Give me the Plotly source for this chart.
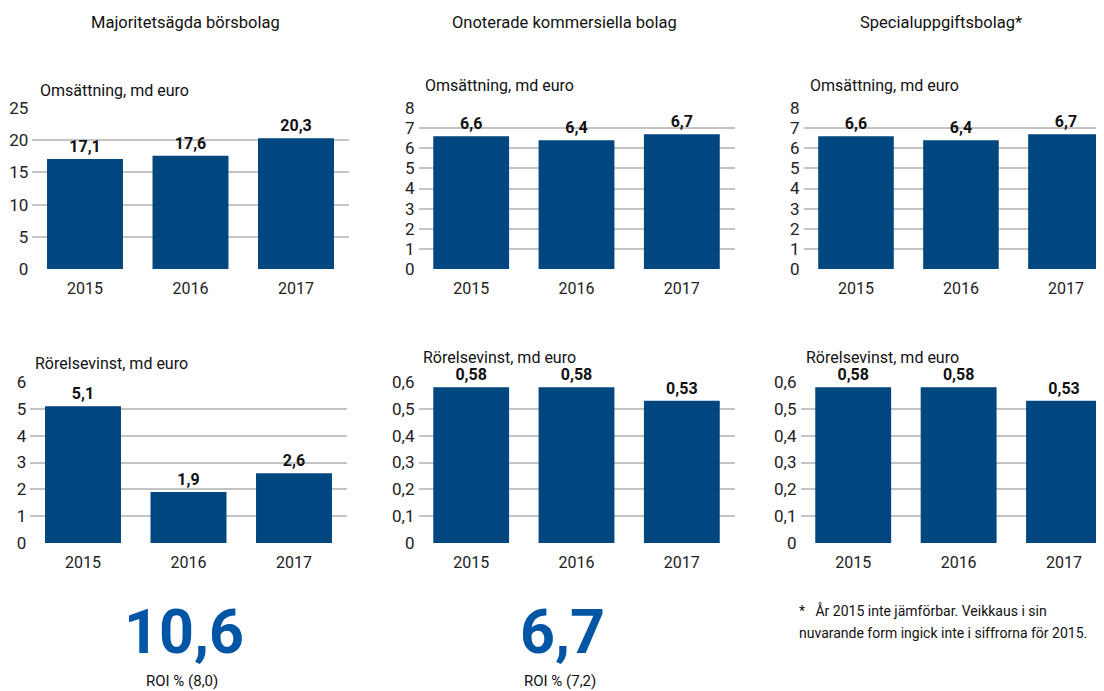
import plotly.graph_objects as go

years = ["2015", "2016", "2017"]
col_titles = ["Majoritetsägda börsbolag", "Onoterade kommersiella bolag", "Specialuppgiftsbolag*"]
revenue_title = "Omsättning, md euro"
profit_title = "Rörelsevinst, md euro"
revenue_listed = [17.1, 17.6, 20.3]
revenue_unlisted = [6.6, 6.4, 6.7]
revenue_special = [6.6, 6.4, 6.7]
profit_listed = [5.1, 1.9, 2.6]
profit_unlisted = [0.58, 0.58, 0.53]
profit_special = [0.58, 0.58, 0.53]
roi_values = ["10,6", "6,7"]
roi_labels = ["ROI % (8,0)", "ROI % (7,2)"]
footnote = ["*   År 2015 inte jämförbar. Veikkaus i sin", "nuvarande form ingick inte i siffrorna för 2015."]

OFF = 8  # page body margin
W, H = 1104 - OFF, 691 - OFF
BAR = "#00467F"
ROI = "#0055A5"
GRID = "#C4C4C4"
COND = "Roboto, Liberation Sans, sans-serif"

def px_x(a): return (a - OFF) / W
def px_y(b): return 1 - (b - OFF) / H

panels = [
    # series, ymax, dtick, fmt, xdomain px, xrange end, ydomain px (bottom, top)
    (revenue_listed, 25, 5, ".1f", (32.25, 348.75), 2.5, (269, 108)),
    (revenue_unlisted, 8, 1, ".1f", (418.5, 734.5), 2.5, (269, 108)),
    (revenue_special, 8, 1, ".1f", (803.5, 1104), 2.3626, (269, 108)),
    (profit_listed, 6, 1, ".1f", (30.25, 346.75), 2.5, (543, 382)),
    (profit_unlisted, 0.6, 0.1, ".2f", (418.5, 734.5), 2.5, (543, 382)),
    (profit_special, 0.6, 0.1, ".2f", (800.5, 1104), 2.379, (543, 382)),
]

fig = go.Figure()
for i, (vals, ymax, dt, fmt, xd, xe, yd) in enumerate(panels):
    n = "" if i == 0 else str(i + 1)
    fig.add_trace(go.Bar(
        x=years, y=vals, xaxis="x" + n, yaxis="y" + n,
        marker=dict(color=BAR, line=dict(width=0)), width=0.72,
        texttemplate="%{y:" + fmt + "}", textposition="outside",
        textfont=dict(family=COND, size=16, color="#111111", weight="bold"),
        cliponaxis=False, showlegend=False, hoverinfo="skip",
    ))
    fig.layout["xaxis" + n] = dict(
        domain=[px_x(xd[0]), px_x(xd[1])], anchor="y" + n, range=[-0.5, xe],
        type="category", showgrid=False, zeroline=False, showline=False, automargin=False,
        ticks="", tickfont=dict(family=COND, size=16, color="#222222"),
        ticklabelstandoff=8, fixedrange=True,
    )
    fig.layout["yaxis" + n] = dict(
        domain=[px_y(yd[0]), px_y(yd[1])], anchor="x" + n, range=[0, ymax], dtick=dt,
        showgrid=True, gridcolor=GRID, gridwidth=2, zeroline=False, showline=False, automargin=False,
        ticks="", tickfont=dict(family=COND, size=17, color="#222222"),
        ticklabelstandoff=3, fixedrange=True,
    )

ann = []
col_centers = [185, 564, 941]
for c, t in zip(col_centers, col_titles):
    ann.append(dict(x=px_x(c), y=px_y(23), text=t, showarrow=False, xref="paper", yref="paper",
                    xanchor="center", yanchor="middle",
                    font=dict(family="Roboto, Liberation Sans, sans-serif", size=16.5, color="#111111")))
for lx, ly in [(38, 90), (423, 86), (808, 86)]:
    ann.append(dict(x=px_x(lx), y=px_y(ly), text=revenue_title, showarrow=False, xref="paper", yref="paper",
                    xanchor="left", yanchor="middle", font=dict(family=COND, size=16, color="#111111")))
for lx, ly in [(33, 363), (421, 357), (804, 357)]:
    ann.append(dict(x=px_x(lx), y=px_y(ly), text=profit_title, showarrow=False, xref="paper", yref="paper",
                    xanchor="left", yanchor="middle", font=dict(family=COND, size=16, color="#111111")))
for cx, v, lab in zip([184, 562], roi_values, roi_labels):
    ann.append(dict(x=px_x(cx), y=px_y(632), text=v, showarrow=False, xref="paper", yref="paper",
                    xanchor="center", yanchor="middle",
                    font=dict(family=COND, size=61, color=ROI, weight="bold")))
    ann.append(dict(x=px_x(cx - 2), y=px_y(681), text=lab, showarrow=False, xref="paper", yref="paper",
                    xanchor="center", yanchor="middle", font=dict(family=COND, size=15, color="#111111")))
for ly, t in zip([610, 633], footnote):
    ann.append(dict(x=px_x(797), y=px_y(ly), text=t, showarrow=False, xref="paper", yref="paper",
                    xanchor="left", yanchor="middle",
                    font=dict(family="Roboto, Liberation Sans, sans-serif", size=14, color="#111111")))

fig.update_layout(
    width=W, height=H, margin=dict(l=0, r=0, t=0, b=0, autoexpand=False),
    paper_bgcolor="white", plot_bgcolor="white",
    separators=", ", annotations=ann,
)
fig.write_html("out.html")
